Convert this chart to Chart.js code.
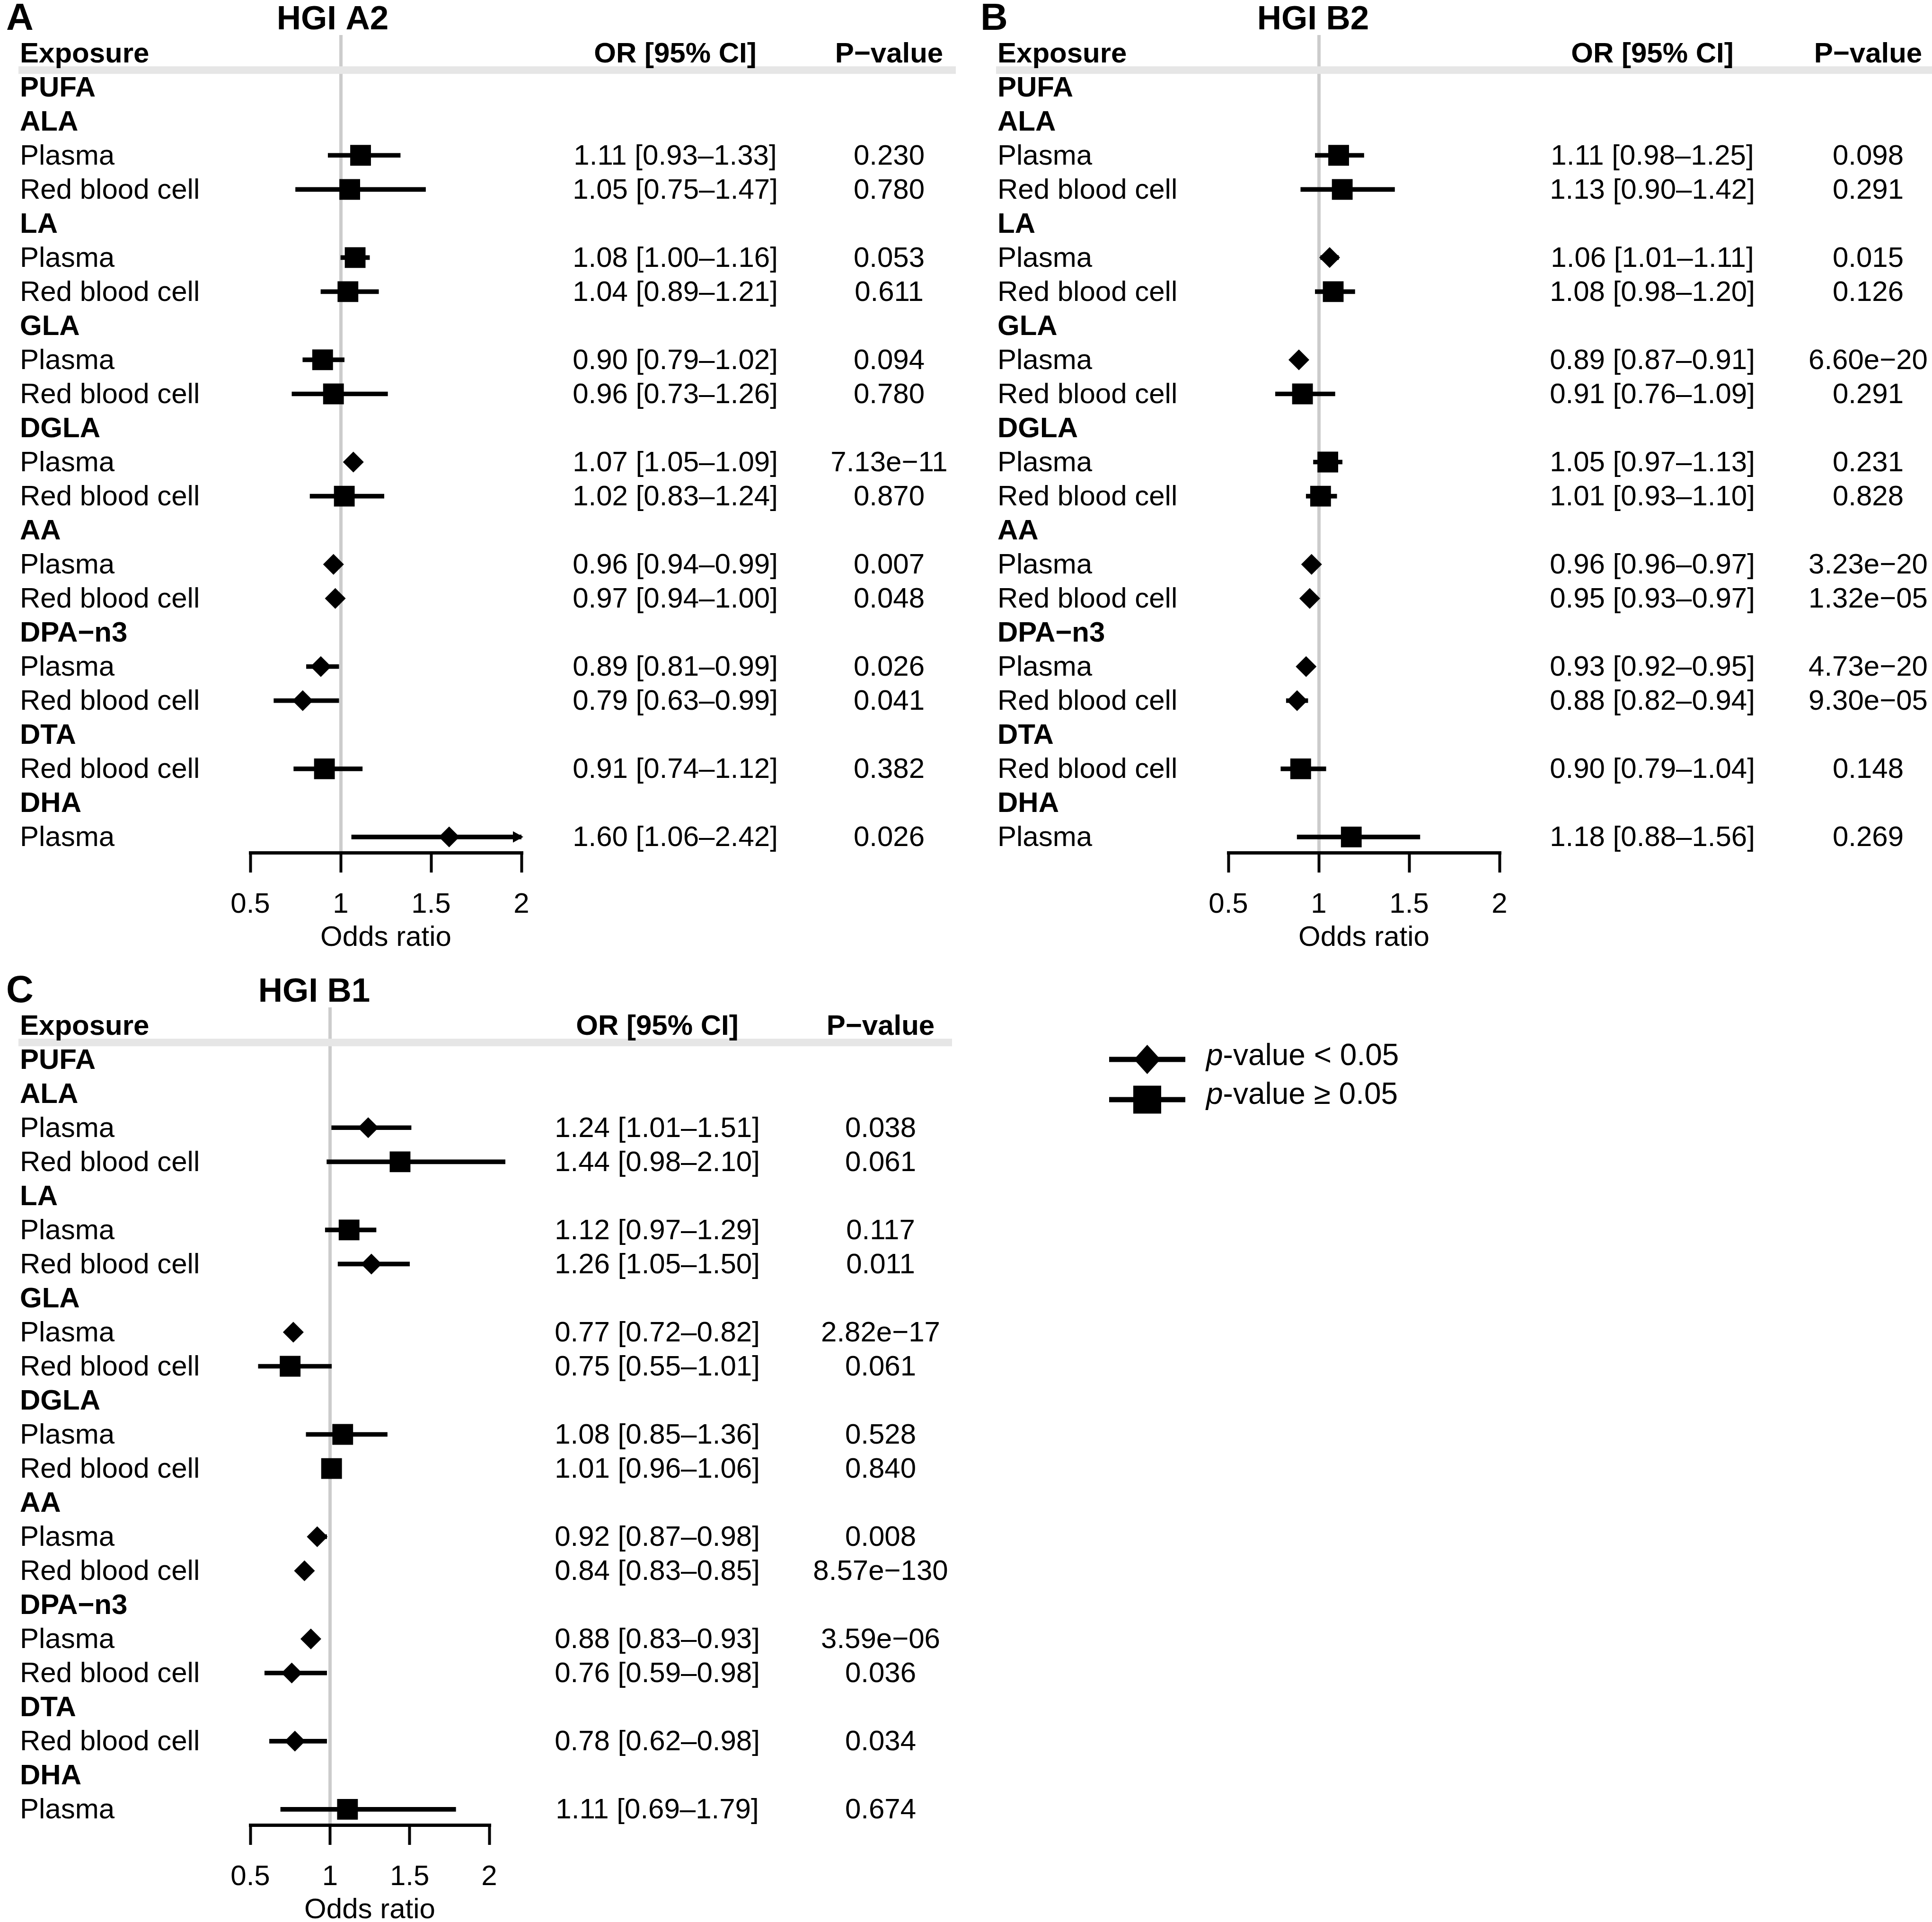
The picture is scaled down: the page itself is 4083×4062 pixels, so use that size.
<!DOCTYPE html>
<html><head><meta charset="utf-8">
<script src="https://cdn.jsdelivr.net/npm/chart.js@4.4.1/dist/chart.umd.min.js"></script>
<style>
html,body{margin:0;padding:0;background:#fff;width:4083px;height:4062px;overflow:hidden}
canvas{position:absolute}
</style>
</head><body>
<canvas id="cA" width="2069" height="2052" style="left:0;top:0"></canvas>
<canvas id="cB" width="2014" height="2052" style="left:2069px;top:0"></canvas>
<canvas id="cC" width="4083" height="2052" style="left:0;top:2055px"></canvas>
<script>
// ---------- DATA ----------
const rowLabels = ['PUFA','ALA','Plasma','Red blood cell','LA','Plasma','Red blood cell','GLA','Plasma','Red blood cell',
  'DGLA','Plasma','Red blood cell','AA','Plasma','Red blood cell','DPA\u2212n3','Plasma','Red blood cell','DTA','Red blood cell','DHA','Plasma'];
const rowIsGroup = [1,1,0,0,1,0,0,1,0,0,1,0,0,1,0,0,1,0,0,1,0,1,0];
const xTickValues = [0.5, 1, 1.5, 2];
const xTickLabels = ['0.5', '1', '1.5', '2'];

const orA = [null,null,1.11,1.05,null,1.08,1.04,null,0.90,0.96,null,1.07,1.02,null,0.96,0.97,null,0.89,0.79,null,0.91,null,1.60];
const loA = [null,null,0.93,0.75,null,1.00,0.89,null,0.79,0.73,null,1.05,0.83,null,0.94,0.94,null,0.81,0.63,null,0.74,null,1.06];
const hiA = [null,null,1.33,1.47,null,1.16,1.21,null,1.02,1.26,null,1.09,1.24,null,0.99,1.00,null,0.99,0.99,null,1.12,null,2.42];
const pA  = [null,null,'0.230','0.780',null,'0.053','0.611',null,'0.094','0.780',null,'7.13e\u221211','0.870',null,'0.007','0.048',null,'0.026','0.041',null,'0.382',null,'0.026'];

const orB = [null,null,1.11,1.13,null,1.06,1.08,null,0.89,0.91,null,1.05,1.01,null,0.96,0.95,null,0.93,0.88,null,0.90,null,1.18];
const loB = [null,null,0.98,0.90,null,1.01,0.98,null,0.87,0.76,null,0.97,0.93,null,0.96,0.93,null,0.92,0.82,null,0.79,null,0.88];
const hiB = [null,null,1.25,1.42,null,1.11,1.20,null,0.91,1.09,null,1.13,1.10,null,0.97,0.97,null,0.95,0.94,null,1.04,null,1.56];
const pB  = [null,null,'0.098','0.291',null,'0.015','0.126',null,'6.60e\u221220','0.291',null,'0.231','0.828',null,'3.23e\u221220','1.32e\u221205',null,'4.73e\u221220','9.30e\u221205',null,'0.148',null,'0.269'];

const orC = [null,null,1.24,1.44,null,1.12,1.26,null,0.77,0.75,null,1.08,1.01,null,0.92,0.84,null,0.88,0.76,null,0.78,null,1.11];
const loC = [null,null,1.01,0.98,null,0.97,1.05,null,0.72,0.55,null,0.85,0.96,null,0.87,0.83,null,0.83,0.59,null,0.62,null,0.69];
const hiC = [null,null,1.51,2.10,null,1.29,1.50,null,0.82,1.01,null,1.36,1.06,null,0.98,0.85,null,0.93,0.98,null,0.98,null,1.79];
const pC  = [null,null,'0.038','0.061',null,'0.117','0.011',null,'2.82e\u221217','0.061',null,'0.528','0.840',null,'0.008','8.57e\u2212130',null,'3.59e\u221206','0.036',null,'0.034',null,'0.674'];

// ---------- LAYOUT ----------
const FONT = '"Liberation Sans", Arial, Helvetica, sans-serif';
const Y_MIN = -1.53, Y_MAX = 22.46;
const TXT_DY = 3;

function pNum(s){ return parseFloat(String(s).replace('\u2212','-')); }

function makeChart(id, cfg, orArr, loArr, hiArr, pArr){
  const canvas = document.getElementById(id);
  const W = canvas.width;
  const ciData = [], ptData = [];
  orArr.forEach((v,i)=>{
    if (v === null) return;
    ciData.push({x:[loArr[i], hiArr[i]], y:i});
    ptData.push({x:v, y:i, sig: pNum(pArr[i]) < 0.05});
  });

  const textPlugin = {
    id: 'forestText',
    beforeDatasetsDraw(chart){
      const ctx = chart.ctx, ys = chart.scales.y;
      ctx.save();
      ctx.fillStyle = '#e6e6e6';
      const by = ys.getPixelForValue(-0.5);
      ctx.fillRect(cfg.bandL, by - 8, cfg.bandR - cfg.bandL, 16);
      ctx.restore();
    },
    afterDatasetsDraw(chart){
      const ctx = chart.ctx, xs = chart.scales.x, ys = chart.scales.y;
      if (!cfg.clipCI) return;
      ctx.save();
      ctx.fillStyle = '#000';
      hiArr.forEach((h,i)=>{
        if (h === null || h <= xs.max) return;
        const tip = xs.getPixelForValue(xs.max) + 4, yy = ys.getPixelForValue(i);
        ctx.beginPath();
        ctx.moveTo(tip, yy);
        ctx.lineTo(tip - 22, yy - 12);
        ctx.lineTo(tip - 22, yy + 12);
        ctx.closePath();
        ctx.fill();
      });
      ctx.restore();
    },
    afterDraw(chart){
      const ctx = chart.ctx, ys = chart.scales.y;
      ctx.save();
      ctx.fillStyle = '#000';
      ctx.textBaseline = 'alphabetic';
      ctx.textAlign = 'left';
      ctx.font = 'bold 80px ' + FONT;
      ctx.fillText(cfg.letter, cfg.letterX, 63);
      ctx.textAlign = 'center';
      ctx.font = 'bold 71px ' + FONT;
      ctx.fillText(cfg.title, cfg.titleX, 62);

      ctx.textBaseline = 'middle';
      const hy = ys.getPixelForValue(-1) + TXT_DY;
      ctx.font = 'bold 60px ' + FONT;
      ctx.textAlign = 'left';
      ctx.fillText('Exposure', cfg.labelX, hy);
      ctx.textAlign = 'center';
      ctx.fillText('OR [95% CI]', cfg.orX, hy);
      ctx.fillText('P\u2212value', cfg.pX, hy);

      rowLabels.forEach((lab,i)=>{
        const yy = ys.getPixelForValue(i) + TXT_DY;
        ctx.textAlign = 'left';
        ctx.font = (rowIsGroup[i] ? 'bold ' : '') + '60px ' + FONT;
        ctx.fillText(lab, cfg.labelX, yy);
        if (orArr[i] !== null){
          ctx.font = '60px ' + FONT;
          ctx.textAlign = 'center';
          const txt = orArr[i].toFixed(2) + ' [' + loArr[i].toFixed(2) + '\u2013' + hiArr[i].toFixed(2) + ']';
          ctx.fillText(txt, cfg.orX, yy);
          ctx.fillText(pArr[i], cfg.pX, yy);
        }
      });

      if (cfg.legend){
        const L = cfg.legend;
        const items = [{sig:true, sym:'<'}, {sig:false, sym:'\u2265'}];
        items.forEach((it,k)=>{
          const my = L.y[k];
          ctx.fillStyle = '#000';
          ctx.fillRect(L.x0, my - 5.5, L.x1 - L.x0, 11);
          const cx = (L.x0 + L.x1) / 2;
          ctx.beginPath();
          if (it.sig){
            ctx.moveTo(cx - 28, my); ctx.lineTo(cx, my - 31); ctx.lineTo(cx + 28, my); ctx.lineTo(cx, my + 31);
          } else {
            ctx.rect(cx - 29.5, my - 29.5, 59, 59);
          }
          ctx.closePath(); ctx.fill();
          const ty = L.ty[k];
          ctx.textAlign = 'left';
          ctx.font = 'italic 64px ' + FONT;
          ctx.fillText('p', L.tx, ty);
          const w = ctx.measureText('p').width;
          ctx.font = '64px ' + FONT;
          ctx.fillText('-value ' + it.sym + ' 0.05', L.tx + w, ty);
        });
      }
      ctx.restore();
    }
  };

  return new Chart(canvas, {
    type: 'scatter',
    data: {
      datasets: [
        {
          type: 'bar', indexAxis: 'y', data: ciData,
          backgroundColor: '#000', borderWidth: 0, barThickness: 9,
          grouped: false, order: 2, clip: cfg.clipCI ? 0 : false
        },
        {
          type: 'scatter', data: ptData, order: 1, clip: false,
          pointStyle: c => (c.raw && c.raw.sig) ? 'rectRot' : 'rect',
          pointRadius: c => (c.raw && c.raw.sig) ? 22 : 31,
          pointBackgroundColor: '#000', pointBorderWidth: 0, pointBorderColor: '#000'
        }
      ]
    },
    options: {
      responsive: false, animation: false, devicePixelRatio: 1, events: [],
      layout: { padding: { left: cfg.left, right: W - cfg.right, top: 74, bottom: 0 } },
      plugins: { legend: { display: false }, tooltip: { enabled: false }, title: { display: false } },
      scales: {
        x: {
          type: 'linear', min: 0.5, max: 2, offset: false,
          afterBuildTicks: s => { s.ticks = xTickValues.map(v => ({ value: v })); },
          afterFit: s => { s.height = 250; },
          ticks: {
            callback: v => { const k = xTickValues.indexOf(v); return k >= 0 ? xTickLabels[k] : ''; },
            font: { family: 'Liberation Sans', size: 60 }, color: '#000', padding: 32,
            maxRotation: 0, autoSkip: false
          },
          grid: {
            color: c => (c.tick && c.tick.value === 1) ? '#cccccc' : 'rgba(0,0,0,0)',
            lineWidth: 7, tickColor: '#000', tickWidth: 6, tickLength: 42,
            drawOnChartArea: true, drawTicks: true, offset: false
          },
          border: { display: true, color: '#000', width: 7 },
          title: { display: true, text: 'Odds ratio', color: '#000',
            font: { family: 'Liberation Sans', size: 60 }, padding: { top: 0, bottom: 34 } }
        },
        y: { type: 'linear', min: Y_MIN, max: Y_MAX, reverse: true, display: false, offset: false,
             grid: { offset: false } }
      }
    },
    plugins: [textPlugin]
  });
}

makeChart('cA', {letter:'A', title:'HGI A2', letterX:13, titleX:703, labelX:42, orX:1427, pX:1879,
  bandL:39, bandR:2020, left:529, right:1102, clipCI:true}, orA, loA, hiA, pA);
makeChart('cB', {letter:'B', title:'HGI B2', letterX:3, titleX:706, labelX:39, orX:1423, pX:1879,
  bandL:36, bandR:2014, left:527, right:1100, clipCI:true}, orB, loB, hiB, pB);
makeChart('cC', {letter:'C', title:'HGI B1', letterX:13, titleX:664, labelX:42, orX:1389, pX:1861,
  bandL:39, bandR:2012, left:529, right:1034, clipCI:false,
  legend:{x0:2344, x1:2505, y:[184, 269], tx:2549, ty:[178, 260]}}, orC, loC, hiC, pC);
</script>
</body></html>
